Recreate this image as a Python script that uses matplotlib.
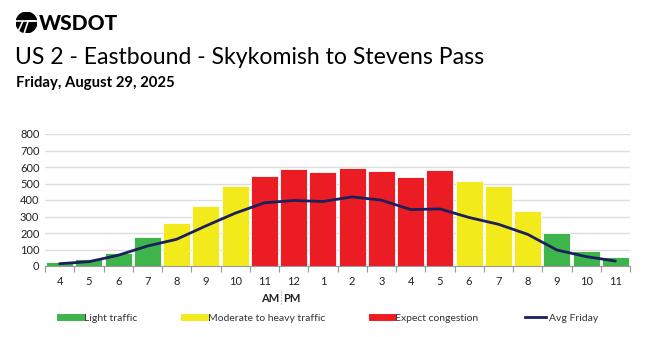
import matplotlib.pyplot as plt
import matplotlib.patches as mpatches
from matplotlib.lines import Line2D
import numpy as np

plt.rcParams['font.family'] = ['Lato', 'DejaVu Sans']

# hourly data, 4 AM to 11 PM
hours = ["4", "5", "6", "7", "8", "9", "10", "11", "12", "1",
         "2", "3", "4", "5", "6", "7", "8", "9", "10", "11"]
volumes = [22, 45, 79, 178, 263, 362, 482, 545, 587, 569,
           593, 575, 540, 581, 514, 486, 334, 200, 89, 53]
avg_friday = [14, 26, 65, 121, 162, 243, 320, 383, 397, 391,
              419, 399, 342, 346, 294, 253, 192, 97, 57, 30]
levels = ["light", "light", "light", "light", "moderate", "moderate", "moderate",
          "congestion", "congestion", "congestion", "congestion", "congestion",
          "congestion", "congestion", "moderate", "moderate", "moderate",
          "light", "light", "light"]

colors = {"light": "#3db54a", "moderate": "#f3ea1c", "congestion": "#ec1c24"}
navy = "#1b1f5c"

W, H = 650, 337
fig = plt.figure(figsize=(W / 100, H / 100), dpi=100)
fig.patch.set_facecolor("white")

ax = fig.add_axes([45 / W, 1 - 266 / H, 585 / W, 132 / H])
x = np.arange(len(hours))
ax.bar(x, volumes, width=0.92, color=[colors[l] for l in levels],
       edgecolor="white", linewidth=0.6, zorder=2)
ax.plot(x, avg_friday, color=navy, lw=2, zorder=3, solid_capstyle="round")

ax.set_xlim(-0.5, len(hours) - 0.5)
ax.set_ylim(0, 800)
ax.set_yticks(range(0, 801, 100))
ax.grid(axis="y", color="#dddddd", lw=1, zorder=0)
ax.tick_params(axis="y", length=0, labelsize=8, pad=4, colors="#222222")
for s in ["left", "right", "top"]:
    ax.spines[s].set_visible(False)
ax.spines["bottom"].set_color("#999999")

ax.set_xticks(np.arange(-0.5, len(hours), 1))
ax.set_xticklabels([])
ax.tick_params(axis="x", which="major", length=4, color="#999999")
ax.set_xticks(x, minor=True)
ax.set_xticklabels(hours, minor=True)
ax.tick_params(axis="x", which="minor", length=0, labelsize=8, pad=7, colors="#222222")

# logo mark: small square axes so the circle stays round
lax = fig.add_axes([16 / W, 1 - 33 / H, 21 / W, 21 / H])
lax.set_xlim(-1, 1)
lax.set_ylim(-1, 1)
lax.set_aspect("equal")
lax.axis("off")
lax.add_patch(mpatches.Circle((0, 0), 0.98, color="black"))
lax.plot([-1, 1], [0.12, 0.12], color="white", lw=1.2)
lax.plot([-0.35, -0.75], [0.12, -0.75], color="white", lw=1.2)
lax.plot([0.15, -0.2], [0.12, -0.95], color="white", lw=1.2)
lax.plot([0.15, 0.8], [0.12, 0.12], color="white", lw=1.2)

fig.text(39 / W, 1 - 23 / H, "WSDOT", fontsize=15, fontweight="black",
         va="center", ha="left")
fig.text(15 / W, 1 - 57 / H, "US 2 - Eastbound - Skykomish to Stevens Pass",
         fontsize=16.6, va="center", ha="left")
fig.text(16 / W, 1 - 83 / H, "Friday, August 29, 2025", fontsize=10.7,
         fontweight="bold", va="center", ha="left")

# AM | PM marker
fig.text(279 / W, 1 - 298 / H, "AM", fontsize=8, fontweight="bold",
         ha="right", va="center", color="#222222")
fig.text(283 / W, 1 - 298 / H, "PM", fontsize=8, fontweight="bold",
         ha="left", va="center", color="#222222")
fig.add_artist(Line2D([281 / W, 281 / W], [1 - 291 / H, 1 - 305 / H],
                      color="#999999", lw=0.8, ls=":"))

handles = [
    Line2D([], [], color=colors["light"], lw=5),
    Line2D([], [], color=colors["moderate"], lw=5),
    Line2D([], [], color=colors["congestion"], lw=5),
    Line2D([], [], color=navy, lw=2),
]
labels = ["Light traffic", "Moderate to heavy traffic", "Expect congestion", "Avg Friday"]
fig.legend(handles, labels, loc="center left", bbox_to_anchor=(51 / W, 1 - 318 / H),
           ncol=4, frameon=False, fontsize=7.5, handlelength=2.0,
           handletextpad=0.3, columnspacing=4.45, labelcolor="#333333")

fig.savefig("out.png", dpi=100)
